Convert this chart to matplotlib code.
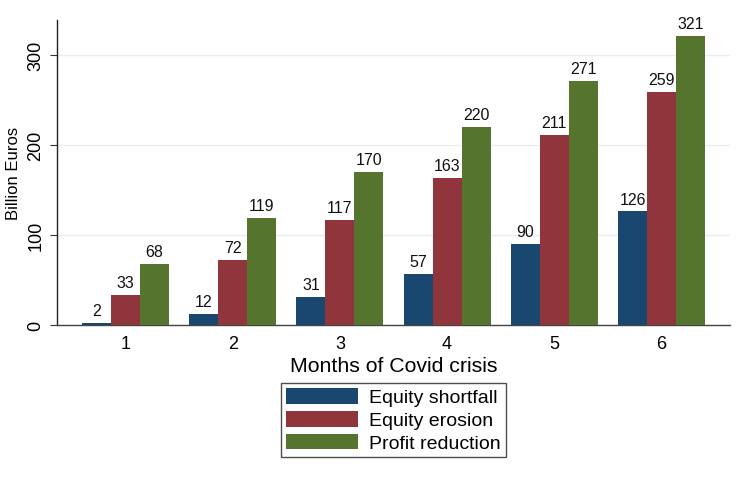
import matplotlib
matplotlib.use("Agg")
import matplotlib.pyplot as plt
import numpy as np

months = ["1", "2", "3", "4", "5", "6"]
equity_shortfall = [2, 12, 31, 57, 90, 126]
equity_erosion = [33, 72, 117, 163, 211, 259]
profit_reduction = [68, 119, 170, 220, 271, 321]
series_names = ["Equity shortfall", "Equity erosion", "Profit reduction"]
colors = ["#1a476f", "#90353b", "#55752f"]

plt.rcParams['font.family'] = ['Liberation Sans', 'DejaVu Sans']

fig = plt.figure(figsize=(7.48, 4.81), dpi=100)
ax = fig.add_axes([57/748, 1-326/481, (730-57)/748, (326-20.5)/481])

x = np.arange(1, len(months)+1)
w = 0.27
allvals = [equity_shortfall, equity_erosion, profit_reduction]
bars = []
for i, (vals, c, name) in enumerate(zip(allvals, colors, series_names)):
    b = ax.bar(x + (i-1)*w, vals, width=w, color=c, label=name, zorder=3, linewidth=0)
    bars.append(b)
    for xi, v in zip(x + (i-1)*w, vals):
        ax.annotate(str(v), (xi, v), xytext=(0, 3.5), textcoords="offset points",
                    ha="center", va="bottom", fontsize=11.5, color="#111111")

ax.set_xlim(x[0] - 1.5*w - 25/107, x[-1] + 1.5*w + 25/107)
ax.set_ylim(0, 339)
ax.set_yticks([0, 100, 200, 300])
ax.set_yticklabels(["0", "100", "200", "300"], rotation=90, va="center", fontsize=13)
ax.set_xticks(x)
ax.set_xticklabels(months, fontsize=13)
ax.tick_params(axis='x', length=0, pad=7)
ax.tick_params(axis='y', length=5, width=0.8, color="#333333", pad=4)
ax.yaxis.grid(True, color="#e6eef0", linewidth=1, zorder=0)
ax.set_axisbelow(True)
for s in ["top", "right"]:
    ax.spines[s].set_visible(False)
ax.spines["left"].set_color("#222222")
ax.spines["left"].set_linewidth(1)
ax.spines["bottom"].set_color("#444444")
ax.spines["bottom"].set_linewidth(1)

ax.set_ylabel("Billion Euros", fontsize=12, labelpad=5)
ax.set_xlabel("Months of Covid crisis", fontsize=15.3, labelpad=3)

leg = fig.legend(handles=bars, labels=series_names, loc="center",
                 bbox_to_anchor=(393.5/748, 1-421/481), fontsize=14,
                 frameon=True, fancybox=False, edgecolor="#222222",
                 handlelength=3.7, handleheight=0.88, labelspacing=0.22,
                 borderpad=0.25, borderaxespad=0, handletextpad=0.6)
leg.get_frame().set_linewidth(1)

fig.savefig("out.png", dpi=100, facecolor="white")
